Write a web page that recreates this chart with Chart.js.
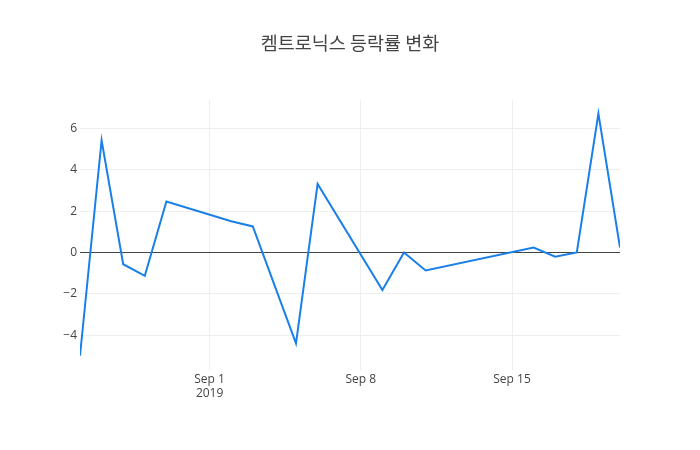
<!DOCTYPE html>
<html>
<head>
<meta charset="utf-8">
<script src="https://cdn.jsdelivr.net/npm/chart.js@4/dist/chart.umd.min.js"></script>
<style>
  html, body { margin: 0; padding: 0; background: #fff; }
  #wrap { width: 700px; height: 450px; }
</style>
</head>
<body>
<div id="wrap"><canvas id="rateChart" width="700" height="450"></canvas></div>
<script>
// 데이터
const dates = ['2019-08-26', '2019-08-27', '2019-08-28', '2019-08-29', '2019-08-30',
               '2019-09-02', '2019-09-03', '2019-09-05', '2019-09-06', '2019-09-09',
               '2019-09-10', '2019-09-11', '2019-09-16', '2019-09-17', '2019-09-18',
               '2019-09-19', '2019-09-20'];
const rates = [-5.0, 5.43, -0.57, -1.13, 2.47,
               1.51, 1.26, -4.40, 3.32, -1.82,
               0.0, -0.87, 0.24, -0.21, 0.0,
               6.72, 0.24];
const xTickDates = ['2019-09-01', '2019-09-08', '2019-09-15'];
const xTickLabels = [['Sep 1', '2019'], 'Sep 8', 'Sep 15'];
const yTicks = [-4, -2, 0, 2, 4, 6];

// 날짜 -> 기준일(8/26)로부터 일수
const baseDay = Date.UTC(2019, 7, 26);
const dayNum = s => {
    const [y, m, d] = s.split('-').map(Number);
    return (Date.UTC(y, m - 1, d) - baseDay) / 86400000;
};
const xTickVals = xTickDates.map(dayNum);

const ctx = document.getElementById('rateChart').getContext('2d');
const chart = new Chart(ctx, {
    type: 'line',
    data: {
        datasets: [{
            data: dates.map((d, i) => ({ x: dayNum(d), y: rates[i] })),
            borderColor: '#1a80e8',
            borderWidth: 2,
            pointRadius: 0,
            tension: 0,
            fill: false
        }]
    },
    options: {
        responsive: false,
        animation: false,
        layout: { padding: 0 },
        scales: {
            x: {
                type: 'linear',
                min: 0,
                max: dayNum('2019-09-20'),
                border: { display: false },
                grid: { color: '#eeeeee', drawTicks: false },
                afterBuildTicks: s => { s.ticks = xTickVals.map(v => ({ value: v })); },
                afterFit: s => { s.height = 80; },
                ticks: {
                    padding: 2,
                    maxRotation: 0,
                    autoSkip: false,
                    color: '#444',
                    font: { family: 'Open Sans', size: 12 },
                    callback: v => xTickLabels[xTickVals.indexOf(v)]
                }
            },
            y: {
                min: -5.69,
                max: 7.37,
                border: { display: false },
                grid: {
                    drawTicks: false,
                    color: c => (c.tick && c.tick.value === 0) ? '#444' : '#eeeeee'
                },
                afterBuildTicks: s => { s.ticks = yTicks.map(v => ({ value: v })); },
                afterFit: s => { s.width = 80; },
                ticks: {
                    padding: 3,
                    color: '#444',
                    font: { family: 'Open Sans', size: 12 },
                    callback: v => v < 0 ? '\u2212' + Math.abs(v) : String(v)
                }
            },
            // 오른쪽 여백용 빈 축
            yRight: {
                position: 'right',
                border: { display: false },
                grid: { display: false },
                ticks: { display: false },
                afterFit: s => { s.width = 80; }
            }
        },
        plugins: {
            legend: { display: false },
            tooltip: { enabled: false },
            title: {
                display: true,
                text: '켐트로닉스 등락률 변화',
                color: '#444',
                font: { family: 'Noto Sans CJK KR', size: 18.5, weight: 'normal' },
                padding: { top: 32, bottom: 46 }
            }
        }
    }
});
</script>
</body>
</html>
